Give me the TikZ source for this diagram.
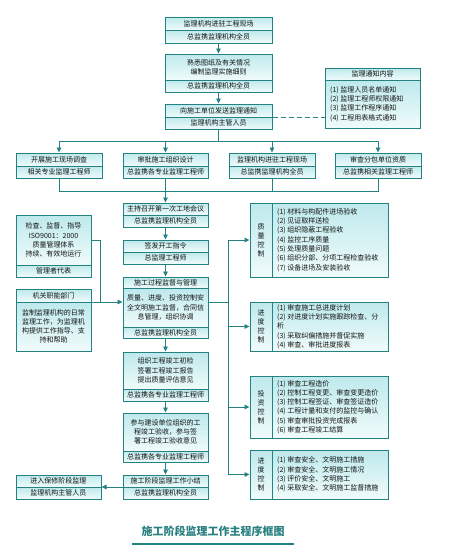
\documentclass[tikz,border=0pt]{standalone}
\usepackage{fontspec}
\setmainfont{Noto Sans CJK SC}
\usetikzlibrary{arrows.meta,fit}
\definecolor{tl}{RGB}{36,130,130}
\definecolor{shtop}{RGB}{190,233,236}
\definecolor{shbot}{RGB}{240,251,251}
\definecolor{ttl}{RGB}{40,128,128}
\definecolor{txtc}{RGB}{20,20,20}
\tikzset{
 boxst/.style={draw=tl, line width=1pt, inner sep=0pt},
 divst/.style={draw=tl, line width=0.7pt},
 secshade/.style={top color=shtop, bottom color=shbot},
 txt/.style={font=\fontsize{7}{9.2}\selectfont, text=txtc, align=center, inner sep=0pt},
 ltxt/.style={font=\fontsize{7}{9.3}\selectfont, text=txtc, align=left, inner sep=0pt},
 conn/.style={draw=tl, line width=0.9pt},
 arr/.style={conn, -{Triangle[length=5pt,width=4.5pt]}},
}
% name, x1, y1, x2, y2, ydiv, top text, bottom text
\newcommand\twobox[8]{%
  \shade[secshade] (#2,#3) rectangle (#4,#6);
  \shade[secshade] (#2,#6) rectangle (#4,#5);
  \node[boxst, fit={(#2,#3)(#4,#5)}] (#1) {};
  \draw[divst] (#2,#6) -- (#4,#6);
  \node[txt] (#1t) at ({(#2+#4)/2},{(#3+#6)/2}) {#7};
  \node[txt] (#1b) at ({(#2+#4)/2},{(#6+#5)/2}) {#8};
}
% name, x1, y1, x2, y2, xdiv, label, lines
\newcommand\sidebox[8]{%
  \shade[secshade] (#2,#3) rectangle (#6,#5);
  \shade[secshade] (#6,#3) rectangle (#4,#5);
  \node[boxst, fit={(#2,#3)(#4,#5)}] (#1) {};
  \draw[divst] (#6,#3) -- (#6,#5);
  \node[txt, font=\fontsize{7}{9}\selectfont] (#1l) at ({(#2+#6)/2},{(#3+#5)/2}) {#7};
  \node[ltxt, anchor=west] (#1b) at ({#6+5},{(#3+#5)/2}) {#8};
}
\begin{document}
\begin{tikzpicture}[x=1pt,y=-1pt]
\useasboundingbox (0,0) rectangle (448,560);
\fill[white] (0,0) rectangle (448,560);

% top column
\twobox{b1}{165}{17}{272}{43}{30}{监理机构进驻工程现场}{总监携监理机构全员}
\twobox{b2}{165}{54}{272}{92}{80}{熟悉图纸及有关情况\\编制监理实施细则}{总监携监理机构全员}
\twobox{b3}{165}{104}{272}{129}{117}{向施工单位发送监理通知}{监理机构主管人员}

% notice box
\shade[secshade] (325,68) rectangle (420,80);
\shade[secshade] (325,80) rectangle (420,128);
\node[boxst, fit={(325,68)(420,128)}] (nb) {};
\draw[divst] (325,80) -- (420,80);
\node[txt] (nbt) at (372.5,74) {监理通知内容};
\node[ltxt, anchor=west] (nbb) at (330,104) {(1) 监理人员名单通知\\(2) 监理工程师权限通知\\(3) 监理工作程序通知\\(4) 工程用表格式通知};

% row of four
\twobox{p1}{16}{153}{102}{178}{166}{开展施工现场调查}{相关专业监理工程师}
\twobox{p2}{123}{153}{208}{178}{166}{审批施工组织设计}{总监携各专业监理工程师}
\twobox{p3}{229}{153}{315}{178}{166}{监理机构进驻工程现场}{总监携监理机构全员}
\twobox{p4}{335}{153}{421}{178}{166}{审查分包单位资质}{总监携相关监理工程师}

% main column
\twobox{m1}{123}{203}{208}{227}{215}{主持召开第一次工地会议}{总监携监理机构全员}
\twobox{m2}{123}{240}{208}{264}{252}{签发开工指令}{总监理工程师}
\shade[secshade] (123,277) rectangle (208,288);
\shade[secshade] (123,288) rectangle (208,327);
\shade[secshade] (123,327) rectangle (208,338);
\node[boxst, fit={(123,277)(208,338)}] (m3) {};
\draw[divst] (123,288) -- (208,288);
\draw[divst] (123,327) -- (208,327);
\node[txt] (m3t) at (165.5,282.5) {施工过程监督与管理};
\node[txt] (m3m) at (165.5,307.5) {质量、进度、投资控制安\\全文明施工监督，合同信\\息管理，组织协调};
\node[txt] (m3b) at (165.5,332.5) {总监携监理机构全员};
\twobox{m4}{123}{352}{208}{401}{389}{组织工程竣工初检\\签署工程竣工报告\\提出质量评估意见}{总监携各专业监理工程师}
\twobox{m5}{123}{413}{208}{462}{451}{参与建设单位组织的工\\程竣工验收，参与签\\署工程竣工验收意见}{总监携各专业监理工程师}
\twobox{m6}{123}{475}{208}{499}{487}{施工阶段监理工作小结}{总监携监理机构全员}

% left column
\twobox{l1}{16}{215}{91}{277}{265}{检查、监督、指导\\ISO9001：2000\\质量管理体系\\持续、有效地运行}{管理者代表}
\twobox{l2}{16}{289}{91}{351}{302}{机关职能部门}{监制监理机构的日常\\监理工作，为监理机\\构提供工作指导、支\\持和帮助}
\twobox{l3}{16}{475}{101}{499}{487}{进入保修阶段监理}{监理机构主管人员}

% right boxes
\sidebox{q}{250}{203}{388}{277}{272}{质\\量\\控\\制}{(1) 材料与构配件进场验收\\(2) 见证取样送检\\(3) 组织隐蔽工程验收\\(4) 监控工序质量\\(5) 处理质量问题\\(6) 组织分部、分项工程检查验收\\(7) 设备进场及安装验收}
\sidebox{s}{250}{302}{388}{351}{272}{进\\度\\控\\制}{(1) 审查施工总进度计划\\(2) 对进度计划实施跟踪检查、分\\析\\(3) 采取纠偏措施并督促实施\\(4) 审查、审批进度报表}
\sidebox{iv}{250}{376}{388}{438}{272}{投\\资\\控\\制}{(1) 审查工程造价\\(2) 控制工程变更、审查变更造价\\(3) 控制工程签证、审查签证造价\\(4) 工程计量和支付的监控与确认\\(5) 审查审批投资完成报表\\(6) 审查工程竣工结算}
\sidebox{sa}{250}{450}{388}{499}{272}{进\\度\\控\\制}{(1) 审查安全、文明施工措施\\(2) 审查安全、文明施工情况\\(3) 评价安全、文明施工\\(4) 采取安全、文明施工监督措施}

% connectors
\coordinate (j1) at (218.5,141);
\coordinate (j2) at (165.5,191);
\coordinate (j3) at (100,302);
\coordinate (j4) at (228,302);
\draw[arr] (b1) -- (b2);
\draw[arr] (b2) -- (b3);
\draw[conn, dash pattern=on 5pt off 3pt] (b3.east |- 0,117) -- (nb.west |- 0,117);
\draw[conn] (b3.south) -- (j1);
\draw[arr] (j1) -| (p1.north);
\draw[arr] (j1) -| (p2.north);
\draw[arr] (j1) -| (p3.north);
\draw[arr] (j1) -| (p4.north);
\draw[conn] (p1.south) |- (j2);
\draw[conn] (p3.south) |- (j2);
\draw[conn] (p4.south) |- (j2);
\draw[arr] (p2.south) -- (m1.north);
\draw[arr] (m1) -- (m2);
\draw[arr] (m2) -- (m3);
\draw[conn] (l1.east |- 0,240) -| (j3);
\draw[arr] (l2.east |- j3) -- (m3.west |- j3);
\draw[conn] (m3.east |- j4) -- (j4);
\draw[arr] (j4) |- (q.west);
\draw[arr] (j4) |- (s.west);
\draw[arr] (j4) |- (iv.west);
\draw[arr] (j4) |- (sa.west);
\draw[arr] (m3) -- (m4);
\draw[arr] (m4) -- (m5);
\draw[arr] (m5) -- (m6);
\draw[arr] (m6.west) -- (l3.east);

% title
\node[font=\fontsize{11}{13}\selectfont\bfseries, text=ttl, inner sep=0pt] (title) at (213,531) {施工阶段监理工作主程序框图};
\draw[draw=tl, line width=2.6pt] (132,544) -- (294,544);
\end{tikzpicture}
\end{document}
